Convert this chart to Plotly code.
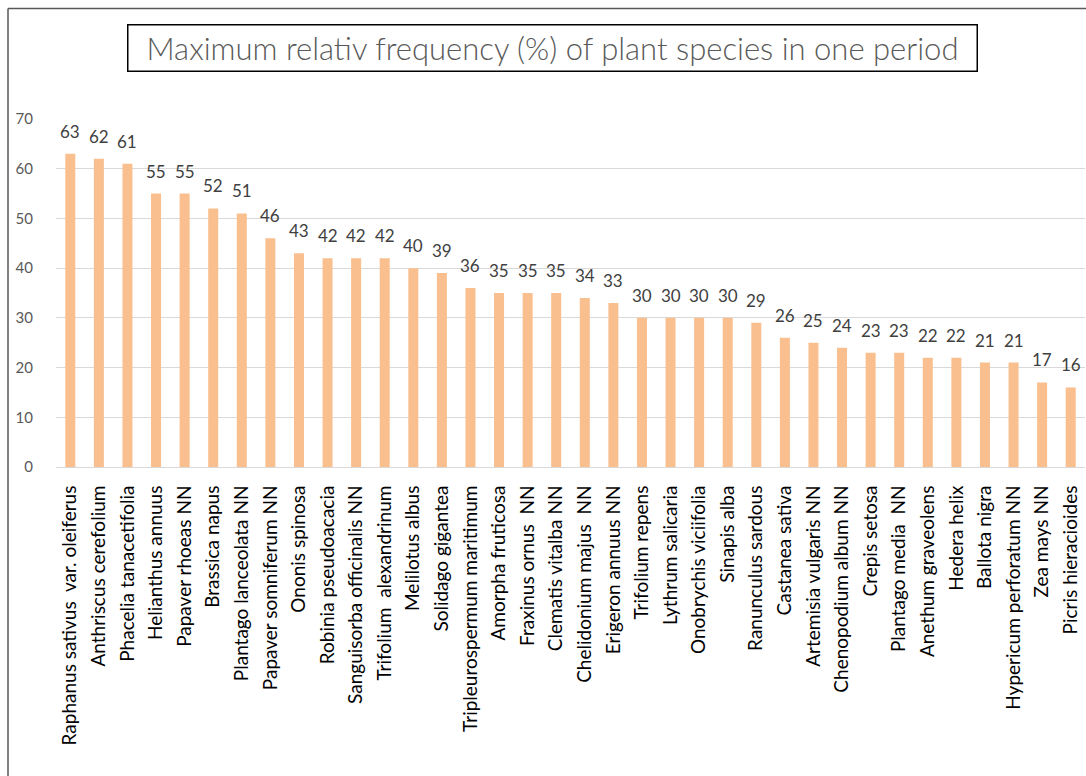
import plotly.graph_objects as go

species = [
    "Raphanus sativus  var. oleiferus", "Anthriscus cerefolium", "Phacelia tanacetifolia",
    "Helianthus annuus", "Papaver rhoeas NN", "Brassica napus", "Plantago lanceolata NN",
    "Papaver somniferum NN", "Ononis spinosa", "Robinia pseudoacacia",
    "Sanguisorba officinalis NN", "Trifolium  alexandrinum", "Melilotus albus",
    "Solidago gigantea", "Tripleurospermum maritimum", "Amorpha fruticosa",
    "Fraxinus ornus  NN", "Clematis vitalba NN", "Chelidonium majus  NN",
    "Erigeron annuus NN", "Trifolium repens", "Lythrum salicaria",
    "Onobrychis viciifolia", "Sinapis alba", "Ranunculus sardous", "Castanea sativa",
    "Artemisia vulgaris NN", "Chenopodium album NN", "Crepis setosa",
    "Plantago media  NN", "Anethum graveolens", "Hedera helix", "Ballota nigra",
    "Hypericum perforatum NN", "Zea mays NN", "Picris hieracioides",
]
max_freq = [63, 62, 61, 55, 55, 52, 51, 46, 43, 42, 42, 42, 40, 39, 36, 35, 35, 35,
            34, 33, 30, 30, 30, 30, 29, 26, 25, 24, 23, 23, 22, 22, 21, 21, 17, 16]
y_ticks = [0, 10, 20, 30, 40, 50, 60, 70]
title_text = "Maximum relativ frequency (%) of plant species in one period"

FONT = "Lato"

W, H = 1086, 776
L, R, T, B = 56, 1, 119, 309
pw, ph = W - L - R, H - T - B
def px(x):
    return (x - L) / pw
def py(y):
    return (H - B - y) / ph

fig = go.Figure()
fig.add_trace(go.Bar(
    x=species, y=max_freq, width=0.35,
    marker=dict(color="#F9BF8F", line=dict(width=0)),
    hoverinfo="x+y",
))

annotations = [
    dict(x=s, y=v, text=str(v), showarrow=False, xref="x", yref="y",
         yanchor="bottom", yshift=10, font=dict(family=FONT, size=17, color="#404040"))
    for s, v in zip(species, max_freq)
]
annotations.append(dict(
    x=px(552), y=py(47.5), xref="paper", yref="paper", text=title_text, showarrow=False,
    xanchor="center", yanchor="middle", width=842, height=39,
    font=dict(family=FONT, size=31, color="#595959", weight=300),
    bordercolor="#000000", borderwidth=1.5, borderpad=3, bgcolor="white",
))

shapes = [
    dict(type="line", xref="paper", yref="paper", x0=px(8), x1=px(8), y0=py(8.5), y1=py(780),
         line=dict(color="#595959", width=1.5)),
    dict(type="line", xref="paper", yref="paper", x0=px(8), x1=px(1100), y0=py(8.5), y1=py(8.5),
         line=dict(color="#595959", width=1.5)),
]

fig.update_layout(
    width=W, height=H,
    margin=dict(l=L, r=R, t=T, b=B, pad=0),
    paper_bgcolor="white", plot_bgcolor="white",
    showlegend=False, bargap=0.65,
    annotations=annotations, shapes=shapes,
    font=dict(family=FONT, color="#404040"),
)
fig.update_xaxes(
    tickangle=-90, tickfont=dict(family=FONT, size=19, color="#000000"),
    showgrid=False, showline=True, linecolor="#d9d9d9", linewidth=1,
    ticks="", ticklabelstandoff=10,
)
fig.update_yaxes(
    range=[0, 70], tickvals=y_ticks, showgrid=True, gridcolor="#d9d9d9", gridwidth=1,
    zeroline=False, showline=False, ticks="",
    tickfont=dict(family=FONT, size=15, color="#595959"), ticklabelstandoff=22,
)

fig.write_html("out.html")
